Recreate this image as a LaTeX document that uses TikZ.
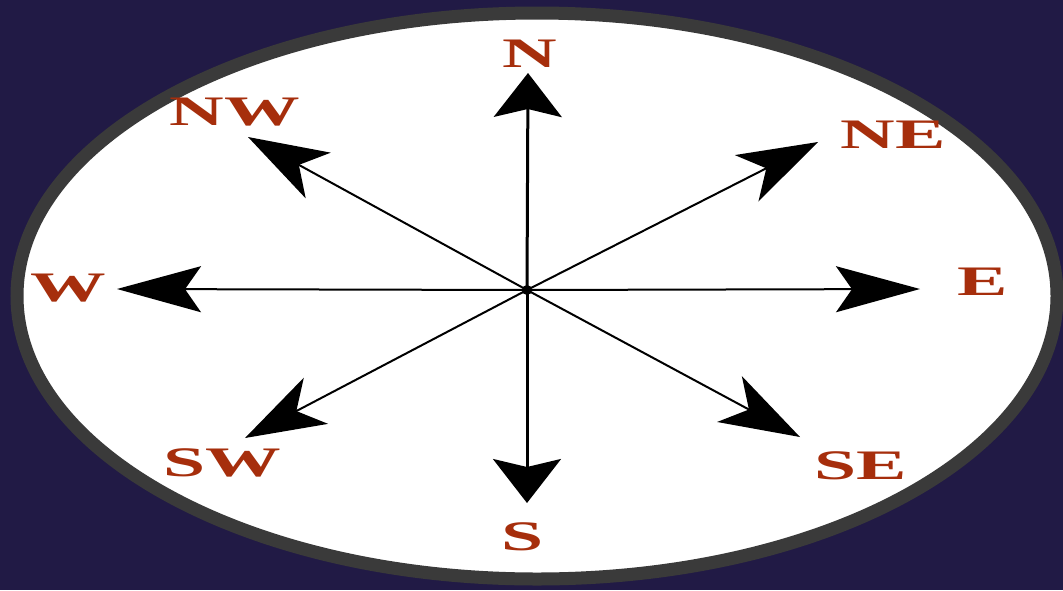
\documentclass[tikz,border=0pt]{standalone}
\usepackage{fontspec}
\usepackage{graphicx}
\setmainfont{Liberation Serif}
\usetikzlibrary{arrows.meta}
\definecolor{bgnavy}{RGB}{33,26,69}
\definecolor{rimgray}{RGB}{58,58,58}
\definecolor{labred}{RGB}{166,46,12}
\begin{document}
\begin{tikzpicture}[x=1pt,y=-1pt,
  lab/.style={inner sep=0pt,text depth=0pt,text=labred,font=\fontsize{42}{42}\selectfont\bfseries},
  ray/.style={line width=2pt,black},
  tipvert/.style={-{Stealth[length=44pt,width=68pt,inset=8pt]}},
  tiphor/.style={-{Stealth[length=84pt,width=46pt,inset=16pt]}},
  tipdiag/.style={-{Stealth[length=80pt,width=52pt,inset=22pt]}}]
\useasboundingbox (0,0) rectangle (1063,590);
\fill[bgnavy] (0,0) rectangle (1063,590);
\draw[rimgray,fill=white,line width=13pt] (537,296) ellipse [x radius=520pt,y radius=283pt];
% centre and tips
\coordinate (c) at (527,290);
\coordinate (tN) at (528,73);
\coordinate (tS) at (527,503);
\coordinate (tW) at (117,289);
\coordinate (tE) at (920,289);
\coordinate (tNE) at (818,142);
\coordinate (tNW) at (248,137);
\coordinate (tSW) at (245,438);
\coordinate (tSE) at (800,437);
% rays
\draw[ray,line width=3pt,tipvert] (c) -- (tN);
\draw[ray,line width=3pt,tipvert] (c) -- (tS);
\draw[ray,tiphor] (c) -- (tW);
\draw[ray,tiphor] (c) -- (tE);
\draw[ray,tipdiag] (c) -- (tNE);
\draw[ray,tipdiag] (c) -- (tNW);
\draw[ray,tipdiag] (c) -- (tSW);
\draw[ray,tipdiag] (c) -- (tSE);
\fill[black] (c) circle [radius=5pt];
% labels
\node[lab] (lN) at (530,54) {\scalebox{1.8}[1]{N}};
\node[lab] (lS) at (523,537) {\scalebox{1.8}[1]{S}};
\node[lab] (lW) at (68,288) {\scalebox{1.8}[1]{W}};
\node[lab] (lE) at (983,282) {\scalebox{1.8}[1]{E}};
\node[lab] (lNE) at (893,135) {\scalebox{1.8}[1]{NE}};
\node[lab] (lNW) at (235,112) {\scalebox{1.8}[1]{NW}};
\node[lab] (lSW) at (222,463) {\scalebox{1.8}[1]{SW}};
\node[lab] (lSE) at (861,466) {\scalebox{1.8}[1]{SE}};
\end{tikzpicture}
\end{document}
